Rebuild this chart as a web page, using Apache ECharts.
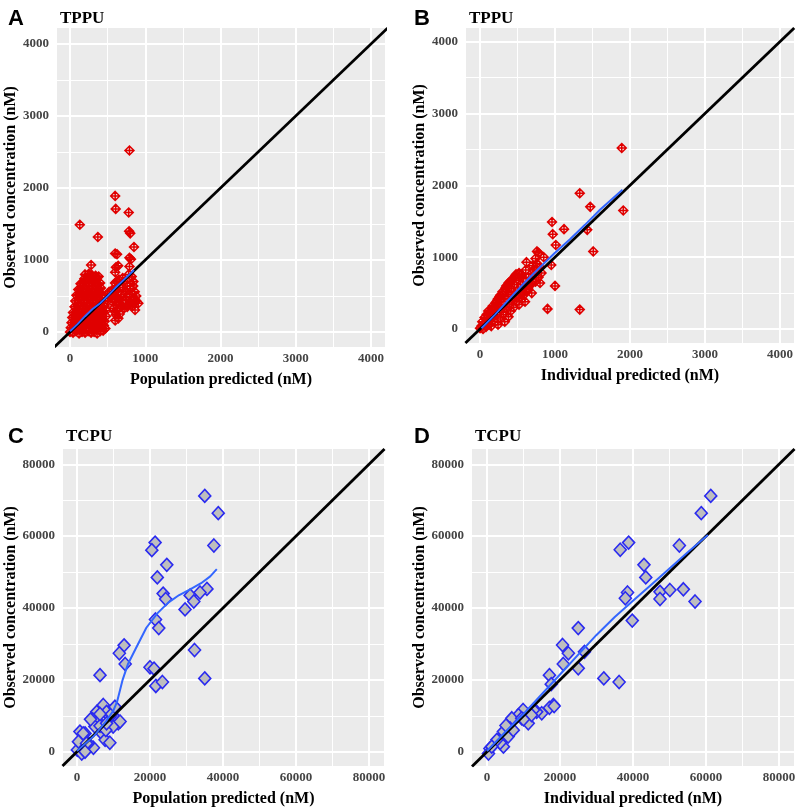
<!DOCTYPE html>
<html>
<head>
<meta charset="utf-8">
<script src="https://cdn.jsdelivr.net/npm/echarts@6/dist/echarts.min.js"></script>
<style>
html,body{margin:0;padding:0;background:#fff;}
#chart{width:799px;height:812px;}
</style>
</head>
<body>
<div id="chart"></div>
<script>
// ---------------- DATA ----------------
const panelLetters = ['A', 'B', 'C', 'D'];
const compoundNames = ['TPPU', 'TPPU', 'TCPU', 'TCPU'];
const xTitles = ['Population predicted (nM)', 'Individual predicted (nM)', 'Population predicted (nM)', 'Individual predicted (nM)'];
const yTitle = 'Observed concentration (nM)';

const tppuTicks = [0, 1000, 2000, 3000, 4000];
const tppuMinorTicks = [500, 1500, 2500, 3500];
const tcpuTicks = [0, 20000, 40000, 60000, 80000];
const tcpuMinorTicks = [10000, 30000, 50000, 70000];

// TPPU: observed vs population predicted
const tppuPopPoints = [
  [790,2520],[600,1890],[607,1710],[780,1660],[130,1490],[370,1320],[785,1400],[800,1370],[850,1180],
  [280,930],[600,1090],[625,1080],[790,1030],[810,1010],[640,920],[610,900],[790,910],[600,830],
  [620,700],[650,730],[700,750],[598,680],[820,770],[842,700],[560,584],[620,490],[753,490],[820,445],
  [908,400],[620,375],[687,352],[775,375],[864,306],[598,282],[642,190],[560,420],[640,560],[660,620],
  [600,600],[700,620],[720,700],[760,640],[800,600],[840,640],[860,560],[880,500],[790,520],[740,440],
  [700,400],[660,450],[600,450],[580,330],[620,300],[660,250],[800,400],[850,400],[880,430],[760,350],
  [720,330],[830,360],[780,800],[740,560],[680,520],[580,520],[610,240],[860,460],[600,160],[570,460],
  [640,420],[500,520],[520,560],[540,480],[500,430],
  [0,0],[40,-10],[80,10],[120,-20],[160,0],[200,-10],[240,10],[280,-10],[320,0],[360,-20],[400,10],[440,20],[470,50],
  [10,60],[50,70],[90,50],[130,60],[170,70],[210,50],[250,60],[290,70],[330,50],[370,60],[410,70],[450,90],
  [20,130],[60,140],[100,120],[140,130],[180,140],[220,120],[260,130],[300,140],[340,120],[380,130],[420,140],[460,150],
  [30,200],[70,210],[110,190],[150,200],[190,210],[230,190],[270,200],[310,210],[350,190],[390,200],[430,210],[480,220],
  [40,270],[80,280],[120,290],[160,270],[200,280],[240,290],[280,270],[320,280],[360,290],[400,270],[440,280],[480,300],
  [60,350],[100,360],[140,370],[180,350],[220,360],[260,370],[300,350],[340,360],[380,370],[420,350],[460,360],
  [70,430],[110,440],[150,450],[190,430],[230,440],[270,450],[310,430],[350,440],[390,450],[430,430],
  [85,510],[120,520],[160,530],[200,510],[240,520],[280,530],[320,510],[360,520],[400,530],[430,510],
  [110,590],[140,600],[180,610],[220,590],[260,600],[300,610],[340,590],[380,600],[410,610],
  [140,670],[170,680],[210,690],[250,670],[290,680],[330,690],[370,670],[400,680],
  [190,740],[230,750],[270,760],[310,740],[350,750],[380,770],[200,800],[250,810],[290,790],[340,780]
];
const tppuPopSmooth = [[0,10],[100,110],[200,220],[300,320],[400,400],[500,500],[600,610],[700,710],[850,860]];

// TPPU: observed vs individual predicted
const tppuIndPoints = [
  [1890,2520],[1330,1890],[1470,1700],[1910,1650],[960,1490],[970,1320],[1120,1390],[1010,1170],[1430,1380],
  [1510,1080],[1000,600],[900,280],[1330,270],[760,1080],[780,1060],[740,980],[620,930],[950,890],[850,1000],
  [800,640],[690,500],[600,380],[710,820],[760,910],
  [0,10],[20,40],[40,0],[60,80],[30,100],[80,30],[100,150],[90,200],[120,60],[140,220],[130,120],[160,280],
  [150,40],[180,180],[170,320],[200,100],[200,260],[210,370],[230,200],[240,60],[250,320],[240,420],[270,140],
  [280,270],[290,420],[300,480],[310,200],[320,340],[330,100],[340,520],[350,280],[360,420],[370,590],[380,170],
  [390,340],[400,480],[400,660],[410,250],[420,560],[430,400],[440,700],[450,300],[460,620],[470,460],[480,760],
  [490,380],[500,540],[510,680],[520,340],[530,440],[540,620],[550,760],[560,420],[570,520],[580,700],[590,480],
  [600,600],[610,820],[620,520],[640,560],[650,720],[660,600],[680,640],[700,880],[700,660],[720,760],[740,660],
  [760,820],[780,720],[800,860],[820,780],[60,160],[110,250],[190,300],[260,450],[350,600],[420,680],[470,740],
  [520,780],[300,520],[270,470],[380,640],[340,570],[230,400]
];
const tppuIndSmooth = [[20,10],[200,200],[400,430],[600,650],[800,860],[1000,1060],[1200,1250],[1400,1450],[1600,1660],[1900,1940]];

// TCPU: observed vs population predicted
const tcpuPopPoints = [
  [35000,71200],[38700,66400],[21400,58200],[20500,56100],[37500,57400],[24600,52000],[22000,48500],[23600,44000],
  [24300,42500],[35600,45300],[33700,44300],[31000,43500],[32000,41800],[29600,39600],[21500,36800],[22400,34400],
  [12900,29600],[11600,27400],[13200,24400],[20000,23500],[21100,23100],[32200,28300],[6300,21300],[21600,18300],
  [23400,19400],[35000,20400],
  [7200,13000],[5400,11100],[4300,9000],[8100,11100],[10400,12200],[11000,8800],[11300,7900],[9000,9700],
  [9900,7000],[5800,8300],[4900,7000],[6800,5100],[7700,3300],[9000,2500],[4500,1100],[800,5600],[1600,3700],
  [2200,5100],[100,500],[1300,-500],[3100,2300],[6300,7200],[7900,6000],[6300,10500],[9500,10500],[10400,12500],
  [3700,9000],[8100,7900],[11800,8400],[400,2800],[2600,2300],[2200,0],[1700,5100]
];
const tcpuPopSmooth = [[0,200],[2000,2000],[4500,4200],[8000,8500],[10000,11500],[11000,14000],[12500,20000],
  [14000,24500],[16000,28500],[19000,34500],[22000,38500],[25000,41500],[28000,43600],[31000,45200],[34000,46900],
  [36500,48800],[38300,50800]];

// TCPU: observed vs individual predicted
const tcpuIndPoints = [
  [61300,71200],[58700,66400],[36500,56200],[38800,58200],[52700,57400],[43000,52000],[43500,48500],[38500,44300],
  [37900,42700],[47400,44500],[50100,45000],[53800,45200],[57000,41800],[47400,42500],[39800,36500],[25000,34400],
  [20700,29700],[22300,27400],[20900,24400],[25000,23200],[17100,21300],[17600,18800],[32000,20400],[36200,19400],
  [26700,27800],
  [18200,13000],[17100,12200],[15000,10700],[13600,11100],[9900,11600],[8600,10200],[6800,9300],[11300,7900],
  [6300,6500],[4500,5600],[5800,4200],[3100,3300],[4500,1400],[800,900],[400,-500],[12700,11600],[12200,10200],
  [9500,9300],[3600,2500],[5200,7300],[10000,9000],[7200,6000],[2700,3300],[1300,1400],[18400,12700]
];
const tcpuIndSmooth = [[0,200],[5000,5500],[10000,10500],[15000,16000],[20000,21500],[25000,27000],[30000,32500],
  [35000,37500],[40000,42000],[45000,46500],[50000,51000],[55000,55500],[60500,60300]];

// ---------------- LAYOUT ----------------
const panels = [
  {grid:{left:57, top:28, width:328, height:319}, x:[-173,4186], y:[-208,4222], pts:tppuPopPoints, smooth:tppuPopSmooth, ticks:tppuTicks, minor:tppuMinorTicks, kind:'tppu'},
  {grid:{left:466, top:28, width:328, height:315}, x:[-187,4187], y:[-195,4190], pts:tppuIndPoints, smooth:tppuIndSmooth, ticks:tppuTicks, minor:tppuMinorTicks, kind:'tppu'},
  {grid:{left:63, top:449, width:321, height:317}, x:[-3836,84110], y:[-3980,84250], pts:tcpuPopPoints, smooth:tcpuPopSmooth, ticks:tcpuTicks, minor:tcpuMinorTicks, kind:'tcpu'},
  {grid:{left:472, top:449, width:322, height:317}, x:[-4110,84110], y:[-3980,84250], pts:tcpuIndPoints, smooth:tcpuIndSmooth, ticks:tcpuTicks, minor:tcpuMinorTicks, kind:'tcpu'}
];

const serif = 'Liberation Serif';
const grids = [], xAxes = [], yAxes = [], series = [], titles = [];
const plainNumber = v => String(v);

panels.forEach((p, i) => {
  grids.push(Object.assign({show:true, backgroundColor:'#EBEBEB', borderWidth:0}, p.grid));
  const axisCommon = {
    type:'value',
    axisLine:{show:false},
    splitLine:{show:false},
    axisTick:{show:true, customValues:p.ticks, length:4, lineStyle:{color:'#333', width:1}},
  };
  xAxes.push(Object.assign({}, axisCommon, {
    gridIndex:i, min:p.x[0], max:p.x[1],
    axisLabel:{customValues:p.ticks, formatter:plainNumber, margin:5, color:'#444', fontFamily:serif, fontWeight:'bold', fontSize:13},
    name:xTitles[i], nameLocation:'middle', nameGap:25,
    nameTextStyle:{color:'#000', fontFamily:serif, fontWeight:'bold', fontSize:16, verticalAlign:'top'}
  }));
  yAxes.push(Object.assign({}, axisCommon, {
    gridIndex:i, min:p.y[0], max:p.y[1],
    axisLabel:{customValues:p.ticks, formatter:plainNumber, margin:8, color:'#444', fontFamily:serif, fontWeight:'bold', fontSize:13},
    name:yTitle, nameLocation:'middle', nameGap:36,
    nameTextStyle:{color:'#000', fontFamily:serif, fontWeight:'bold', fontSize:16}
  }));

  const gl = [];
  p.ticks.forEach(v => { gl.push({xAxis:v, lineStyle:{width:2}}); gl.push({yAxis:v, lineStyle:{width:2}}); });
  p.minor.forEach(v => { gl.push({xAxis:v, lineStyle:{width:1}}); gl.push({yAxis:v, lineStyle:{width:1}}); });
  series.push({
    type:'line', xAxisIndex:i, yAxisIndex:i, data:[], z:1, silent:true,
    markLine:{silent:true, z:1, symbol:['none','none'], label:{show:false},
      lineStyle:{color:'#FFFFFF', type:'solid', opacity:1}, emphasis:{disabled:true}, animation:false, data:gl}
  });

  if (p.kind === 'tppu') {
    series.push({
      type:'scatter', xAxisIndex:i, yAxisIndex:i, data:p.pts, z:2,
      symbol:'path://M0,-10L10,0L0,10L-10,0Z M0,-10L0,10 M-10,0L10,0',
      symbolSize:9,
      itemStyle:{color:'rgba(0,0,0,0)', borderColor:'#E00000', borderWidth:1.5, opacity:1}
    });
  } else {
    series.push({
      type:'scatter', xAxisIndex:i, yAxisIndex:i, data:p.pts, z:2,
      symbol:'diamond', symbolSize:[12,13],
      itemStyle:{color:'#BEBEBE', borderColor:'#2A2AF0', borderWidth:1.6, opacity:1}
    });
  }
  const lo = Math.min(p.x[0], p.y[0]), hi = Math.max(p.x[1], p.y[1]);
  series.push({
    type:'line', xAxisIndex:i, yAxisIndex:i, data:[[lo,lo],[hi,hi]], z:3, clip:true,
    showSymbol:false, symbol:'none', lineStyle:{color:'#000', width:2.8}
  });
  series.push({
    type:'line', xAxisIndex:i, yAxisIndex:i, data:p.smooth, z:4, clip:true,
    showSymbol:false, symbol:'none', lineStyle:{color:'#3366FF', width:2}
  });

  const leftCol = i % 2 === 0;
  const topPx = i < 2 ? 3 : 421;
  titles.push({text:panelLetters[i], left: leftCol ? 3 : 409, top: topPx,
    textStyle:{fontFamily:'Liberation Sans', fontWeight:'bold', fontSize:22, color:'#000'}});
  titles.push({text:compoundNames[i], left: p.grid.left - 2, top: topPx + 2,
    textStyle:{fontFamily:serif, fontWeight:'bold', fontSize:17, color:'#000'}});
});

const chart = echarts.init(document.getElementById('chart'), null, {renderer:'canvas'});
chart.setOption({
  backgroundColor:'#FFFFFF',
  animation:false,
  title:titles,
  grid:grids,
  xAxis:xAxes,
  yAxis:yAxes,
  series:series
});
</script>
</body>
</html>
